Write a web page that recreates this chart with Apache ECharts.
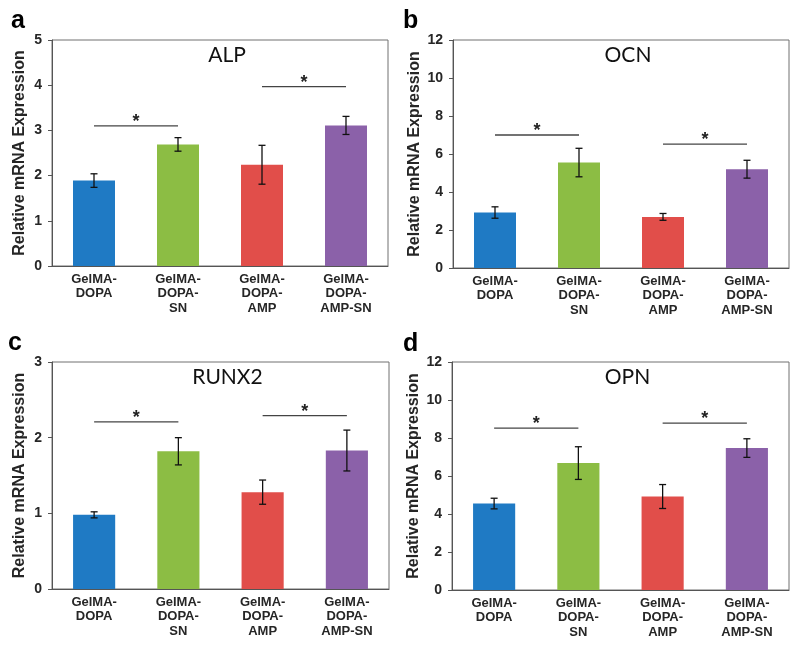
<!DOCTYPE html>
<html>
<head>
<meta charset="utf-8">
<script src="https://cdn.jsdelivr.net/npm/echarts@6/dist/echarts.min.js"></script>
<style>html,body{margin:0;padding:0;background:#fff;}#c{width:800px;height:651px;}</style>
</head>
<body>
<div id="c"></div>
<script>
const categories = ['GelMA-\nDOPA', 'GelMA-\nDOPA-\nSN', 'GelMA-\nDOPA-\nAMP', 'GelMA-\nDOPA-\nAMP-SN'];
const barColors = ['#1F7AC4', '#8CBD44', '#E14E4A', '#8B61A9'];

const alpMean = [1.89, 2.69, 2.24, 3.11];
const alpErr = [0.15, 0.15, 0.43, 0.20];
const ocnMean = [2.92, 5.55, 2.69, 5.20];
const ocnErr = [0.30, 0.75, 0.18, 0.47];
const runx2Mean = [0.98, 1.82, 1.28, 1.83];
const runx2Err = [0.04, 0.18, 0.16, 0.27];
const opnMean = [4.55, 6.68, 4.92, 7.47];
const opnErr = [0.28, 0.86, 0.63, 0.49];

// significance brackets: [fromIndex, toIndex, yValue]
const alpSig = [[0, 1, 3.10], [2, 3, 3.97]];
const ocnSig = [[0, 1, 7.00], [2, 3, 6.52]];
const runx2Sig = [[0, 1, 2.21], [2, 3, 2.29]];
const opnSig = [[0, 1, 8.52], [2, 3, 8.78]];

const titles = ['ALP', 'OCN', 'RUNX2', 'OPN'];
const letters = ['a', 'b', 'c', 'd'];
const yMax = [5, 12, 3, 12];
const yInterval = [1, 2, 1, 2];

const panels = [
  {mean: alpMean, err: alpErr, sig: alpSig},
  {mean: ocnMean, err: ocnErr, sig: ocnSig},
  {mean: runx2Mean, err: runx2Err, sig: runx2Sig},
  {mean: opnMean, err: opnErr, sig: opnSig}
];

const gridPos = [
  {left: 52, top: 40, width: 336, height: 226},
  {left: 453, top: 40, width: 336, height: 228},
  {left: 52, top: 362, width: 337, height: 227},
  {left: 452, top: 362, width: 337, height: 228}
];
const nameGaps = [24, 30, 24, 30];
const FONT = 'Arial, "Liberation Sans", sans-serif';

const grids = [], xAxes = [], yAxes = [], series = [], titleArr = [];

gridPos.forEach((g, i) => {
  grids.push(Object.assign({show: true, borderColor: '#707070', borderWidth: 1, backgroundColor: 'transparent'}, g));
  xAxes.push({
    type: 'category', gridIndex: i, data: categories,
    axisLine: {lineStyle: {color: '#555', width: 1}},
    axisTick: {show: false},
    axisLabel: {color: '#262626', fontFamily: FONT, fontWeight: 'bold', fontSize: 13, lineHeight: 14.5, margin: 6, interval: 0}
  });
  yAxes.push({
    type: 'value', gridIndex: i, min: 0, max: yMax[i], interval: yInterval[i],
    name: 'Relative mRNA Expression', nameLocation: 'middle', nameGap: nameGaps[i],
    nameTextStyle: {color: '#262626', fontFamily: FONT, fontWeight: 'bold', fontSize: 16},
    axisLine: {show: true, lineStyle: {color: '#555', width: 1}},
    axisTick: {show: true, length: 4, lineStyle: {color: '#555'}},
    splitLine: {show: false},
    axisLabel: {color: '#262626', fontFamily: FONT, fontWeight: 'bold', fontSize: 14, margin: 10}
  });
  const p = panels[i];
  series.push({
    type: 'bar', xAxisIndex: i, yAxisIndex: i, barWidth: '50%',
    data: p.mean.map((v, k) => ({value: v, itemStyle: {color: barColors[k]}})),
    silent: true
  });
  series.push({
    type: 'custom', xAxisIndex: i, yAxisIndex: i, silent: true, z: 5,
    data: p.mean.map((v, k) => [k, v - p.err[k], v + p.err[k]]),
    renderItem: function (params, api) {
      const lo = api.coord([api.value(0), api.value(1)]);
      const hi = api.coord([api.value(0), api.value(2)]);
      const w = 3.5;
      const st = {stroke: '#111', lineWidth: 1.3};
      return {type: 'group', children: [
        {type: 'line', shape: {x1: hi[0], y1: hi[1], x2: lo[0], y2: lo[1]}, style: st},
        {type: 'line', shape: {x1: hi[0] - w, y1: hi[1], x2: hi[0] + w, y2: hi[1]}, style: st},
        {type: 'line', shape: {x1: lo[0] - w, y1: lo[1], x2: lo[0] + w, y2: lo[1]}, style: st}
      ]};
    }
  });
  series.push({
    type: 'custom', xAxisIndex: i, yAxisIndex: i, silent: true, z: 5,
    data: p.sig,
    renderItem: function (params, api) {
      const a = api.coord([api.value(0), api.value(2)]);
      const b = api.coord([api.value(1), api.value(2)]);
      return {type: 'group', children: [
        {type: 'line', shape: {x1: a[0], y1: a[1], x2: b[0], y2: b[1]}, style: {stroke: '#444', lineWidth: 1.3}},
        {type: 'text', style: {text: '*', x: (a[0] + b[0]) / 2, y: a[1] - 4, align: 'center', verticalAlign: 'middle', fill: '#222', font: 'bold 18px ' + FONT}}
      ]};
    }
  });
  titleArr.push({
    text: titles[i], left: g.left + g.width / 2 + 2, top: g.top, textAlign: 'center',
    textStyle: {color: '#111', fontFamily: 'Lato, "Open Sans", sans-serif', fontWeight: 'normal', fontSize: 21}
  });
});

const letterPos = [[6, 4], [398, 4], [3, 326], [398, 327]];
letters.forEach((l, i) => {
  titleArr.push({
    text: l, left: letterPos[i][0], top: letterPos[i][1],
    textStyle: {color: '#000', fontFamily: FONT, fontWeight: 'bold', fontSize: 25}
  });
});

const chart = echarts.init(document.getElementById('c'), null, {renderer: 'canvas'});
chart.setOption({
  animation: false,
  backgroundColor: '#fff',
  title: titleArr,
  grid: grids,
  xAxis: xAxes,
  yAxis: yAxes,
  series: series
});
</script>
</body>
</html>
